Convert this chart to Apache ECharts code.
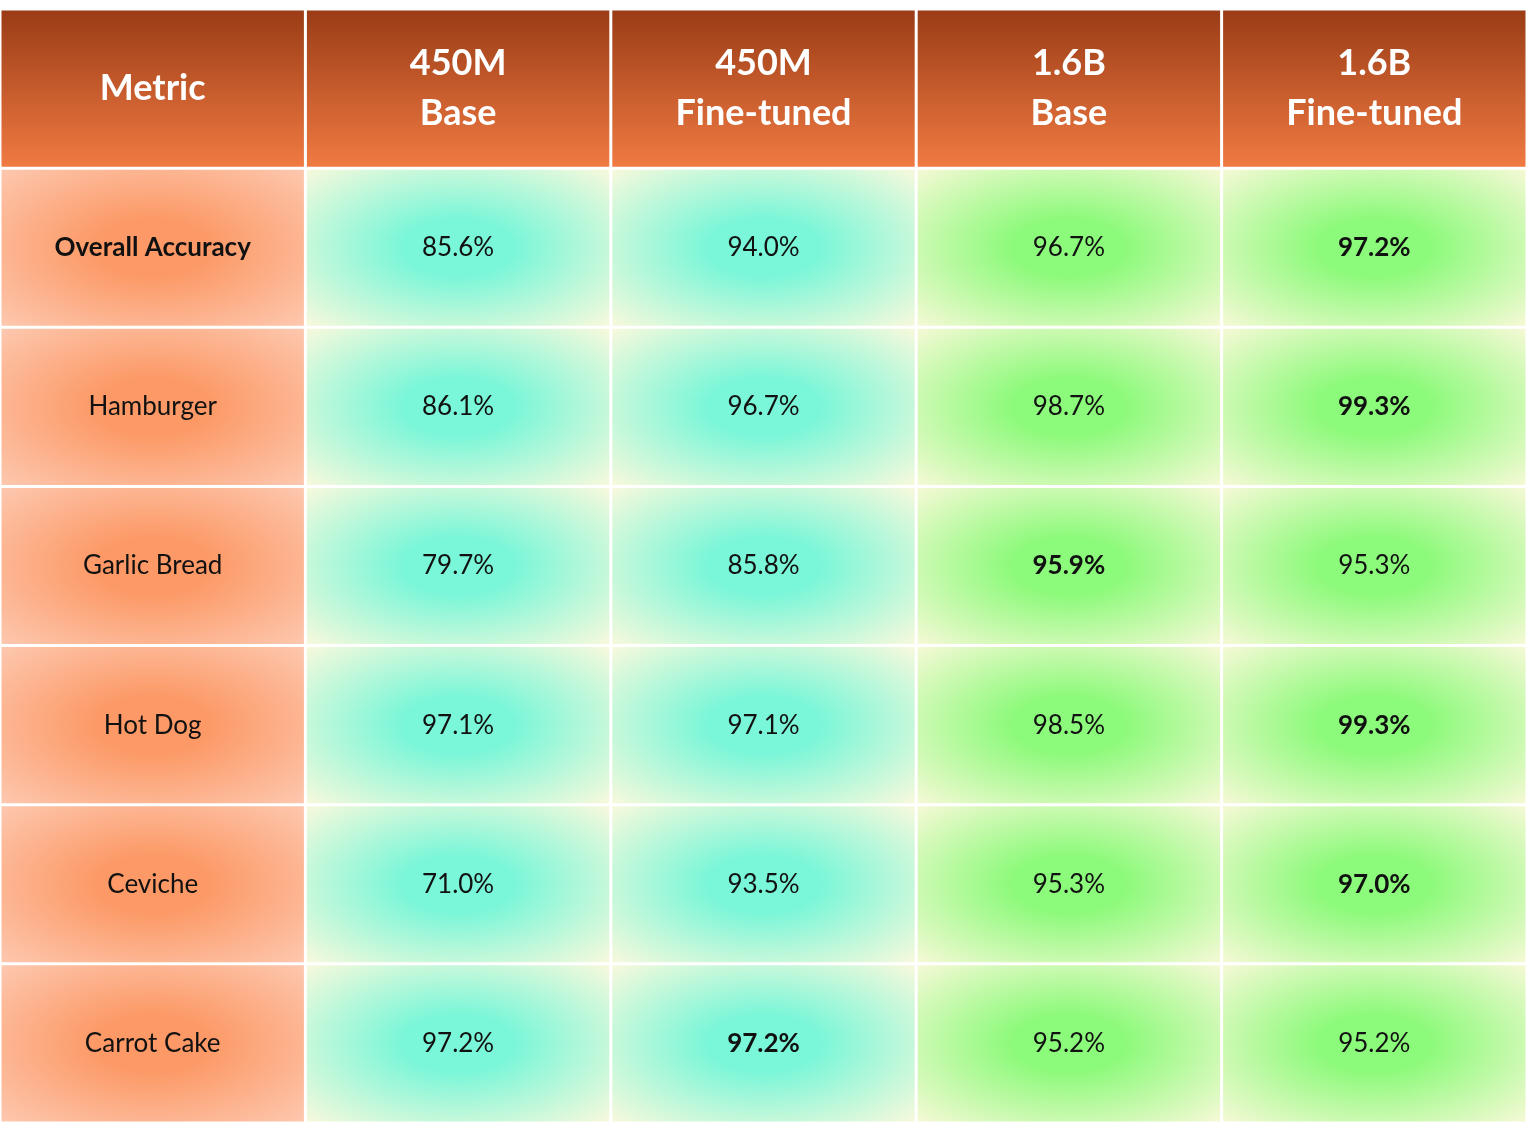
<!DOCTYPE html>
<html><head><meta charset="utf-8">
<script src="https://cdn.jsdelivr.net/npm/echarts@6/dist/echarts.min.js"></script>
<style>html,body{margin:0;padding:0;background:#fff}#c{width:1533px;height:1126px}</style>
</head><body><div id="c"></div>
<script>
const headers = ["Metric", "450M\nBase", "450M\nFine-tuned", "1.6B\nBase", "1.6B\nFine-tuned"];
const metrics = ["Overall Accuracy", "Hamburger", "Garlic Bread", "Hot Dog", "Ceviche", "Carrot Cake"];
const m450Base = [85.6, 86.1, 79.7, 97.1, 71.0, 97.2];
const m450Ft = [94.0, 96.7, 85.8, 97.1, 93.5, 97.2];
const b16Base = [96.7, 98.7, 95.9, 98.5, 95.3, 95.2];
const b16Ft = [97.2, 99.3, 95.3, 99.3, 97.0, 95.2];
const boldCol = [4, 4, 3, 4, 4, 2];

const cols = [m450Base, m450Ft, b16Base, b16Ft];
const data = [];
headers.forEach((h, c) => data.push([c, 0, h, 'h', 0]));
metrics.forEach((m, r) => {
  data.push([0, r + 1, m, 'm', r === 0 ? 1 : 0]);
  cols.forEach((arr, ci) => data.push([ci + 1, r + 1, arr[r].toFixed(1) + '%', ci < 2 ? 'a' : 'g', boldCol[r] === ci + 1 ? 1 : 0]));
});
const FONT = '"Comic Sans MS", "Lato", "Open Sans", sans-serif';
function fillFor(t) {
  if (t === 'h') return new echarts.graphic.LinearGradient(0, 0, 0, 1, [{offset: 0, color: '#9a3c16'}, {offset: 1, color: '#f07a42'}]);
  const c = t === 'm' ? ['#fc9966', '#fdc9b1'] : t === 'a' ? ['#7af6d8', '#fbf9dc'] : ['#8cfa7a', '#f8f9d8'];
  return new echarts.graphic.RadialGradient(0.5, 0.5, 0.72, [{offset: 0, color: c[0]}, {offset: 0.25, color: c[0]}, {offset: 1, color: c[1]}]);
}
const chart = echarts.init(document.getElementById('c'));
chart.setOption({
  animation: false,
  grid: {left: 0, right: 6, top: 9, bottom: 3},
  xAxis: {type: 'category', data: headers, show: false},
  yAxis: {type: 'category', data: ['h'].concat(metrics), inverse: true, show: false},
  series: [{
    type: 'custom', data: data,
    renderItem: function (params, api) {
      const c = api.coord([api.value(0), api.value(1)]);
      const s = api.size([1, 1]);
      const t = api.value(3), bold = api.value(4);
      const x = c[0] - s[0] / 2 + 1.5, y = c[1] - s[1] / 2 + 1.5, w = s[0] - 3, h = s[1] - 3;
      const isH = t === 'h';
      return {type: 'group', children: [
        {type: 'rect', x: x, y: y, scaleX: w / h, shape: {x: 0, y: 0, width: h, height: h}, style: {fill: fillFor(t)}},
        {type: 'text', style: {x: c[0], y: c[1], text: api.value(2), align: 'center', verticalAlign: 'middle',
          fill: isH ? '#ffffff' : '#111111', font: (isH || bold ? 'bold ' : '') + (isH ? '36px ' : '26px ') + FONT,
          lineHeight: isH ? 50 : 30}}
      ]};
    }
  }]
});
</script></body></html>
